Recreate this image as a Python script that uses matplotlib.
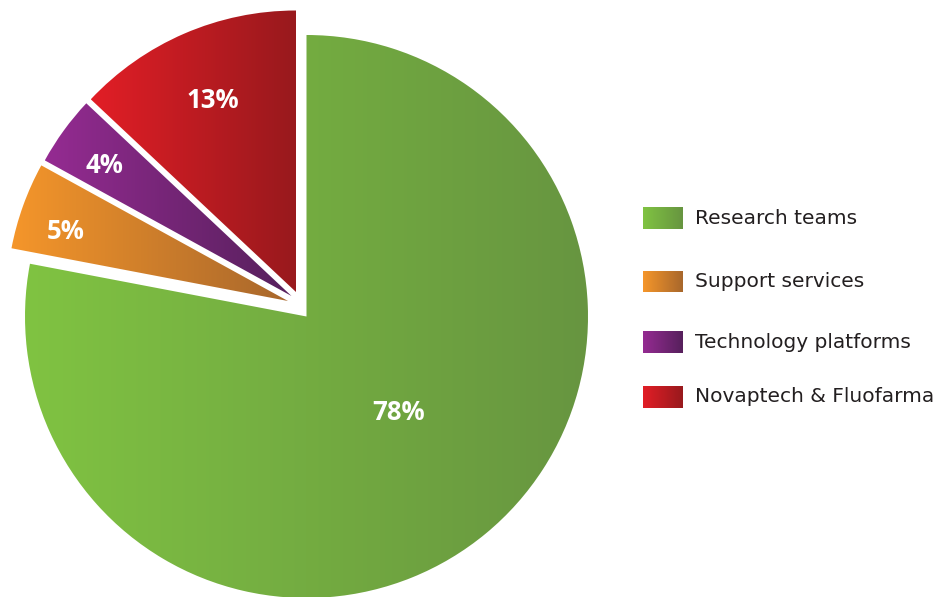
import numpy as np
import matplotlib
matplotlib.use("Agg")
import matplotlib.pyplot as plt
from matplotlib.patches import Wedge, Rectangle
from matplotlib.colors import LinearSegmentedColormap

labels = ["Research teams", "Support services", "Technology platforms", "Novaptech & Fluofarma"]
shares = [78, 5, 4, 13]
left_colors = ["#80c342", "#f5962a", "#952b92", "#e21e26"]
right_colors = ["#679540", "#a8672c", "#56205c", "#98191d"]

# layout (pixel units, y up)
cx, cy, r = 306.5, 280.5, 281.5
offsets = [(0, 0), (-18.5, 15.5), (-15.0, 20.5), (-10.5, 24.5)]
label_r = [0.469, 0.828, 0.813, 0.747]
label_turn = [4.4, 2.1, 0.9, 0.0]
leg_x, leg_w, leg_h = 643, 40, 22
leg_y = [379, 315.5, 255, 200]

fig = plt.figure(figsize=(9.4, 5.97), dpi=100)
ax = fig.add_axes([0, 0, 1, 1])
grad = np.linspace(0, 1, 256).reshape(1, -1)


def fill_gradient(patch, i):
    cmap = LinearSegmentedColormap.from_list("g%d" % i, [left_colors[i], right_colors[i]])
    ext = patch.get_path().get_extents(patch.get_patch_transform())
    im = ax.imshow(grad, cmap=cmap, extent=[ext.x0, ext.x1, ext.y0, ext.y1],
                   aspect="auto", interpolation="bilinear", zorder=1)
    im.set_clip_path(patch)


start = 90
total = sum(shares)
for i, share in enumerate(shares):
    t2 = start
    t1 = start - share / total * 360
    start = t1
    c = (cx + offsets[i][0], cy + offsets[i][1])
    w = Wedge(c, r, t1, t2, facecolor="none", edgecolor="none")
    ax.add_patch(w)
    fill_gradient(w, i)
    mid = np.deg2rad((t1 + t2) / 2 + label_turn[i])
    ax.text(c[0] + label_r[i] * r * np.cos(mid), c[1] + label_r[i] * r * np.sin(mid) - 1,
            "%d%%" % share, color="white", fontsize=18.5, fontweight="bold",
            family="Open Sans", ha="center", va="center", zorder=3)

    rect = Rectangle((leg_x, leg_y[i] - leg_h / 2), leg_w, leg_h, facecolor="none", edgecolor="none")
    ax.add_patch(rect)
    fill_gradient(rect, i)
    ax.text(leg_x + 52, leg_y[i], labels[i], fontsize=14.5, color="#231f20",
            ha="left", va="center", zorder=3)

ax.set_xlim(0, 940)
ax.set_ylim(0, 597)
ax.axis("off")
fig.savefig("out.png", dpi=100)
